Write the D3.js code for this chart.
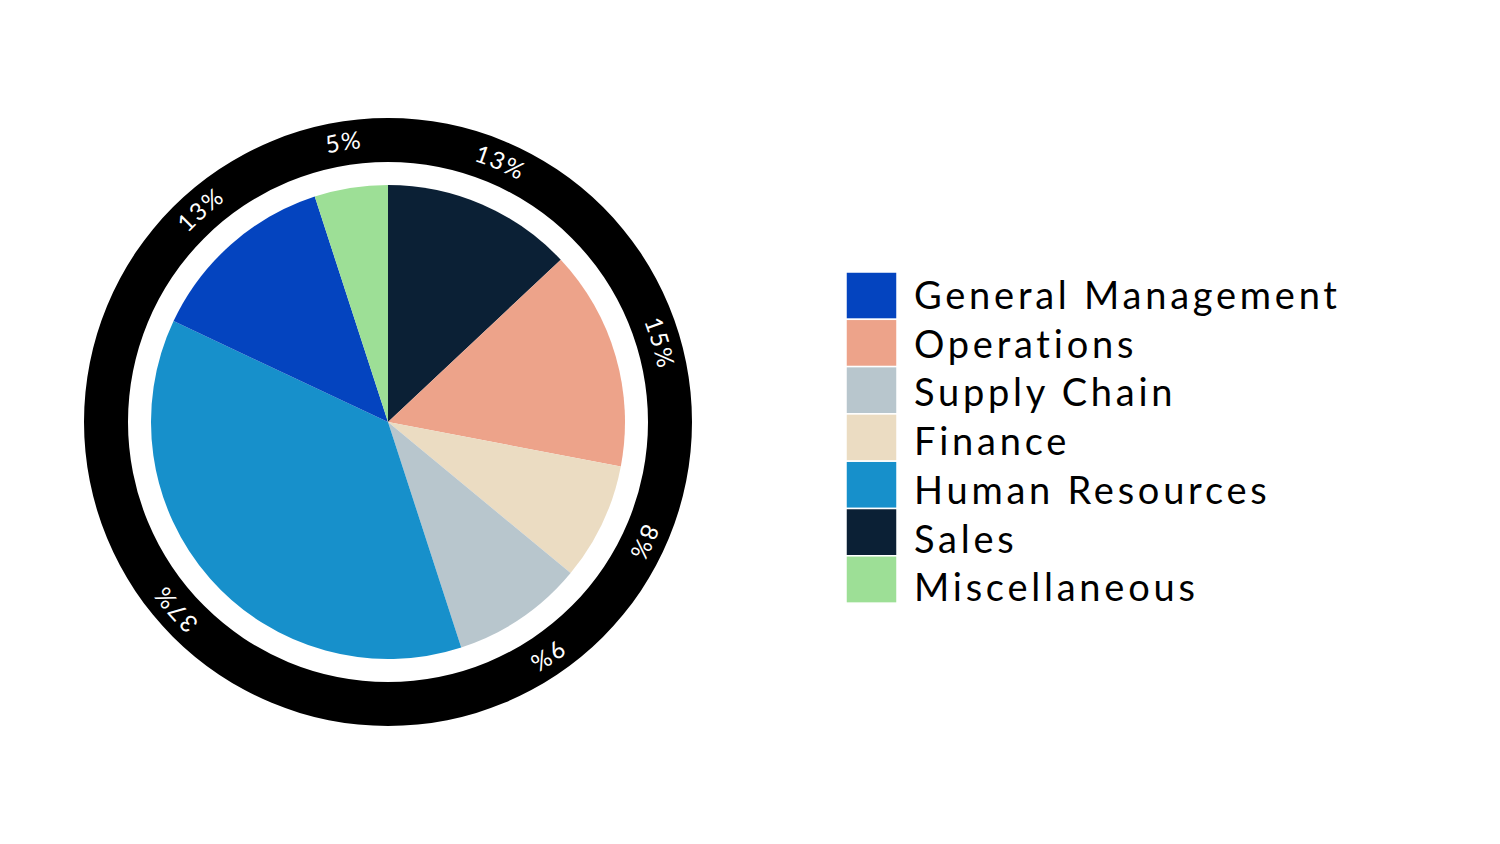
<!DOCTYPE html>
<html>
<head>
<meta charset="utf-8">
<script src="https://cdn.jsdelivr.net/npm/d3@7"></script>
<style>
  body { margin: 0; background: #fff; }
  svg text { font-family: Lato, "Noto Sans", sans-serif; }
</style>
</head>
<body>
<div id="chart"></div>
<script>
// data, in clockwise order from 12 o'clock
const categories = ["Sales", "Operations", "Finance", "Supply Chain", "Human Resources", "General Management", "Miscellaneous"];
const values = [13, 15, 8, 9, 37, 13, 5];
const colors = ["#0b2035", "#eda38a", "#ebdcc2", "#b8c6cd", "#1790cb", "#0444bf", "#9ddf96"];
// legend order as shown on the right
const legendOrder = ["General Management", "Operations", "Supply Chain", "Finance", "Human Resources", "Sales", "Miscellaneous"];

const width = 1500, height = 844;
const cx = 388, cy = 422;
const pieR = 237, ringInner = 260, ringOuter = 304, labelR = 275;

const svg = d3.select('#chart').append('svg')
    .attr('width', width)
    .attr('height', height);

const data = categories.map((c, i) => ({ name: c, value: values[i] }));
const color = d3.scaleOrdinal().domain(categories).range(colors);

const pie = d3.pie().sort(null).value(d => d.value);
const arcs = pie(data);

const g = svg.append('g').attr('transform', `translate(${cx},${cy})`);

// black outer ring
g.append('path')
    .attr('d', d3.arc().innerRadius(ringInner).outerRadius(ringOuter)({ startAngle: 0, endAngle: 2 * Math.PI }))
    .attr('fill', '#000');

// slices
const arc = d3.arc().innerRadius(0).outerRadius(pieR);
g.selectAll('.slice')
    .data(arcs)
    .enter().append('path')
    .attr('class', 'slice')
    .attr('d', arc)
    .attr('fill', d => color(d.data.name));

// curved percentage labels on the ring
const total = d3.sum(values);
arcs.forEach((d, i) => {
    const mid = (d.startAngle + d.endAngle) / 2;
    // d3.path uses angle 0 at 3 o'clock
    const p = d3.path();
    const a = mid - Math.PI / 2;
    p.arc(0, 0, labelR, a - Math.PI / 2, a + Math.PI / 2);
    g.append('path')
        .attr('id', 'lbl' + i)
        .attr('d', p.toString())
        .attr('fill', 'none');
    g.append('text')
        .attr('fill', '#fff')
        .style('font-size', '24px')
        .style('letter-spacing', '1.5px')
        .append('textPath')
        .attr('href', '#lbl' + i)
        .attr('startOffset', '50%')
        .attr('text-anchor', 'middle')
        .text(Math.round(d.data.value / total * 100) + '%');
});

// legend
const legX = 846, legY = 272, swW = 51, swH = 47.3;
const y = d3.scaleBand().domain(legendOrder).range([legY, legY + swH * legendOrder.length]);
const ty = d3.scalePoint().domain(legendOrder).range([309, 309 + 48.7 * (legendOrder.length - 1)]);

const leg = svg.append('g');
leg.selectAll('rect')
    .data(legendOrder)
    .enter().append('rect')
    .attr('x', legX)
    .attr('y', d => y(d))
    .attr('width', swW)
    .attr('height', y.bandwidth())
    .attr('fill', d => color(d))
    .attr('stroke', '#fff')
    .attr('stroke-width', 1.5);

const labels = leg.selectAll('text')
    .data(legendOrder)
    .enter().append('text')
    .attr('x', 914)
    .attr('y', d => ty(d))
    .attr('fill', '#000')
    .style('font-size', '38px')
    .text(d => d);

// widen spacing so the first label spans like the original
const first = labels.node();
const w = first.getComputedTextLength();
const ls = (423 - w) / (legendOrder[0].length - 1);
labels.style('letter-spacing', ls + 'px');
</script>
</body>
</html>
